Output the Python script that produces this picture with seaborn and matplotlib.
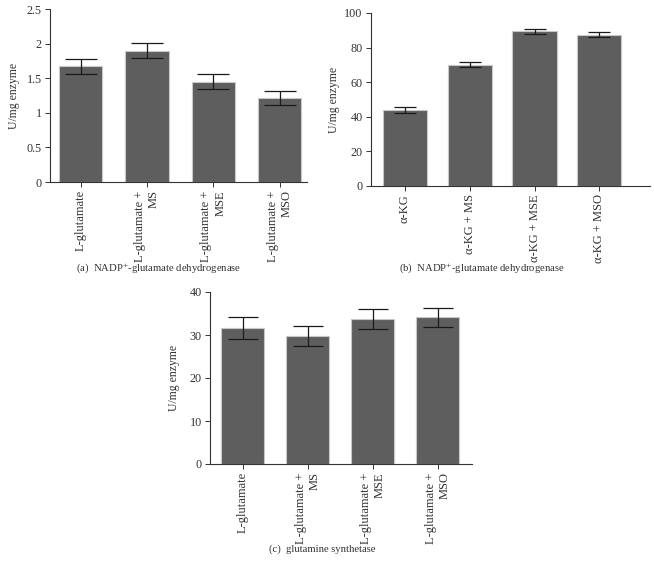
import matplotlib
matplotlib.use('Agg')
import matplotlib.pyplot as plt
import seaborn as sns
import numpy as np

# panel (a): NADP+-glutamate dehydrogenase, L-glutamate substrate
labels_a = ['L-glutamate', 'L-glutamate +\nMS', 'L-glutamate +\nMSE', 'L-glutamate +\nMSO']
values_a = [1.67, 1.90, 1.45, 1.21]
errors_a = [0.11, 0.115, 0.11, 0.10]

# panel (b): NADP+-glutamate dehydrogenase, alpha-KG substrate
labels_b = ['α-KG', 'α-KG + MS', 'α-KG + MSE', 'α-KG + MSO']
values_b = [44.0, 70.0, 89.5, 87.5]
errors_b = [1.7, 1.5, 1.5, 1.5]

# panel (c): glutamine synthetase
labels_c = ['L-glutamate', 'L-glutamate +\nMS', 'L-glutamate +\nMSE', 'L-glutamate +\nMSO']
values_c = [31.7, 29.8, 33.7, 34.1]
errors_c = [2.6, 2.3, 2.3, 2.25]

sns.set_style('ticks')
plt.rcParams['font.family'] = ['Liberation Serif', 'DejaVu Serif']
plt.rcParams['mathtext.fontset'] = 'stix'

W, H = 654, 564
fig = plt.figure(figsize=(W / 100, H / 100), dpi=100)


def px_axes(x0, x1, ytop, ybot):
    return fig.add_axes([x0 / W, 1 - ybot / H, (x1 - x0) / W, (ybot - ytop) / H])


def draw_panel(ax, labels, values, errors, ymax, yticks, ticklabels, xlim, width, capsize):
    sns.barplot(x=labels, y=values, color='#5e5e5e', saturation=1, width=width,
                edgecolor='#c8c8c8', linewidth=0.8, ax=ax)
    ax.errorbar(np.arange(len(values)), values, yerr=errors, fmt='none',
                ecolor='#1a1a1a', elinewidth=0.9, capsize=capsize, capthick=0.9)
    ax.set_ylim(0, ymax)
    ax.set_xlim(*xlim)
    ax.set_yticks(yticks)
    ax.set_yticklabels(ticklabels, fontsize=8.7, color='#333333')
    ax.set_ylabel('U/mg enzyme', fontsize=8.5, color='#333333')
    ax.tick_params(axis='both', length=3.5, width=0.7, color='#333333', pad=2.5)
    for lab in ax.get_xticklabels():
        lab.set_rotation(90)
        lab.set_fontsize(9)
        lab.set_color('#333333')
        lab.set_va('top')
        lab.set_ha('center')
        lab.set_multialignment('right')
    sns.despine(ax=ax)
    for s in ['left', 'bottom']:
        ax.spines[s].set_linewidth(0.8)
        ax.spines[s].set_color('#333333')


ax_a = px_axes(50, 307, 9, 182)
draw_panel(ax_a, labels_a, values_a, errors_a, 2.5,
           [0, 0.5, 1, 1.5, 2, 2.5], ['0', '0.5', '1', '1.5', '2', '2.5'],
           (-0.46, 3.41), 0.65, 11.5)
ax_a.yaxis.set_label_coords(-0.117, 0.5)

ax_b = px_axes(371, 650, 13, 186)
draw_panel(ax_b, labels_b, values_b, errors_b, 100,
           [0, 20, 40, 60, 80, 100], ['0', '20', '40', '60', '80', '100'],
           (-0.52, 3.78), 0.68, 8)
ax_b.yaxis.set_label_coords(-0.111, 0.5)

ax_c = px_axes(210, 472, 292, 464)
draw_panel(ax_c, labels_c, values_c, errors_c, 40,
           [0, 10, 20, 30, 40], ['0', '10', '20', '30', '40'],
           (-0.5, 3.53), 0.66, 11)
ax_c.yaxis.set_label_coords(-0.115, 0.5)

cap_kw = dict(fontsize=7.7, color='#333333', ha='center', va='center')
fig.text(159 / W, 1 - 268 / H, r'(a)  NADP$^{+}$-glutamate dehydrogenase', **cap_kw)
fig.text(482 / W, 1 - 268 / H, r'(b)  NADP$^{+}$-glutamate dehydrogenase', **cap_kw)
fig.text(322 / W, 1 - 549 / H, '(c)  glutamine synthetase', **cap_kw)

fig.savefig('out.png', dpi=100)
